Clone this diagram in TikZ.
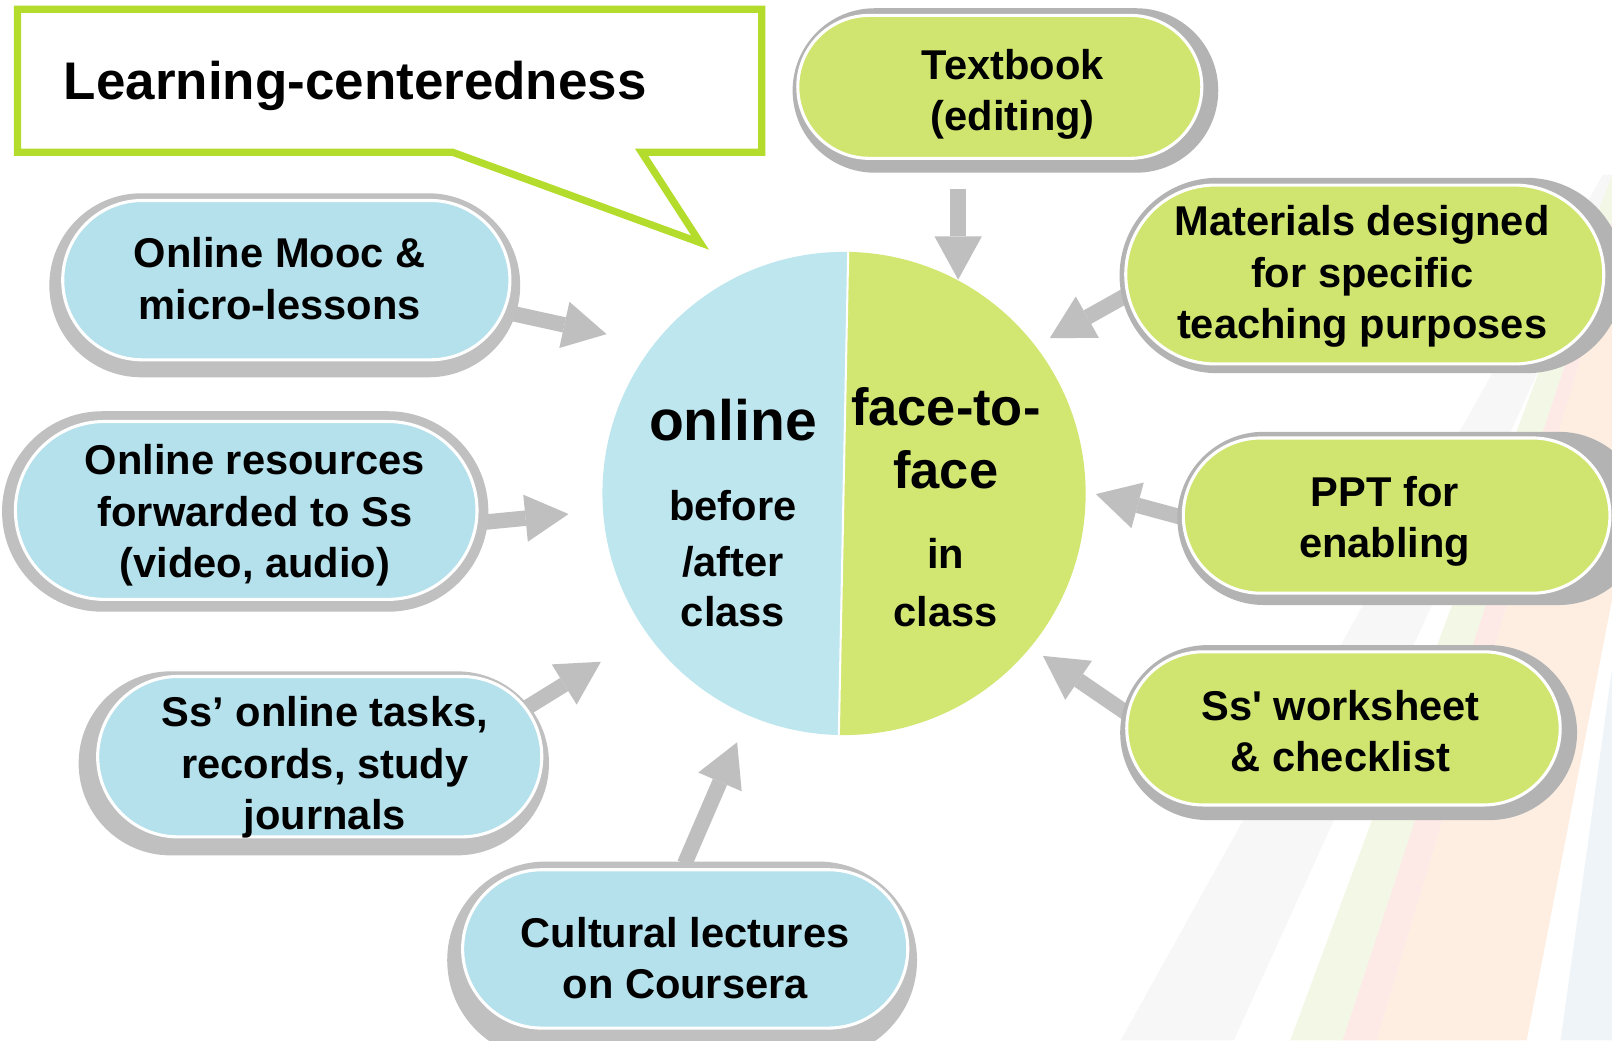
\documentclass[tikz,border=0pt]{standalone}
\usepackage{fontspec}
\setmainfont{Liberation Sans}[Ligatures=TeXOff]
\usetikzlibrary{shapes.misc,arrows.meta}
\definecolor{pillblue}{HTML}{B4E1EC}
\definecolor{pillgreen}{HTML}{D0E56F}
\definecolor{circblue}{HTML}{BEE6EE}
\definecolor{circgreen}{HTML}{D2E672}
\definecolor{shadowL}{HTML}{C0C0C0}
\definecolor{shadowR}{HTML}{B3B3B3}
\definecolor{arrowgrey}{HTML}{BFBFBF}
\definecolor{calloutgreen}{HTML}{B4DC2C}
\definecolor{stripegrey}{HTML}{F7F7F7}
\definecolor{stripegreen}{HTML}{F2F8E5}
\definecolor{stripepink}{HTML}{FDE9E5}
\definecolor{stripepeach}{HTML}{FDEEE1}
\definecolor{stripeblue}{HTML}{EEF4F8}
\tikzset{
  pill/.style={rounded rectangle, inner sep=0pt, outer sep=0pt, draw=white, line width=3pt},
  pillshadow/.style={rounded rectangle, inner sep=0pt, outer sep=0pt, draw=none},
  pilltext/.style={align=center, font=\fontsize{40.5}{50}\selectfont\bfseries, inner sep=0pt},
  hubbig/.style={anchor=base, inner sep=0pt, font=\fontsize{51}{60}\selectfont\bfseries},
  hubsmall/.style={anchor=base, inner sep=0pt, font=\fontsize{40.5}{50}\selectfont\bfseries},
  bigarrow/.style={draw=arrowgrey, line width=15pt, -{Triangle[length=42pt,width=46pt,line width=0pt]}},
}
\begin{document}
\begin{tikzpicture}[x=1pt,y=-1pt]
\useasboundingbox (0,0) rectangle (1568,1012);
\fill[white] (0,0) rectangle (1568,1012);
% background stripes
\begin{scope}
\clip (0,165) rectangle (1568,1012);
\fill[stripegrey] (1090,1012) -- (1200,1012) -- (1583,170) -- (1559,170) -- cycle;
\fill[stripegreen] (1255,1012) -- (1306,1012) -- (1583,170) -- (1568,170) -- cycle;
\fill[stripepink] (1306,1012) -- (1339,1012) -- (1591,170) -- (1583,170) -- cycle;
\fill[stripepeach] (1339,1012) -- (1485,1012) -- (1648,170) -- (1591,170) -- cycle;
\fill[stripeblue] (1518,1012) -- (1600,1012) -- (1600,420) -- cycle;
\end{scope}
% callout
\draw[calloutgreen, line width=7pt, fill=white] (17,9) -- (741,9) -- (741,148) -- (624,148) -- (681,236) -- (440,148) -- (17,148) -- cycle;
\node[anchor=base west, font=\fontsize{51.5}{60}\selectfont\bfseries, inner sep=0pt] (title) at (62,97) {Learning-centeredness};
% arrow coordinates
\coordinate (tA) at (932,184);  \coordinate (hA) at (932,272);
\coordinate (tB) at (1105,282); \coordinate (hB) at (1021,329);
\coordinate (tC) at (485,302);  \coordinate (hC) at (590,325);
\coordinate (tD) at (460,509);  \coordinate (hD) at (553,500);
\coordinate (tE) at (1160,506); \coordinate (hE) at (1066,480.6);
\coordinate (tF) at (500,696);  \coordinate (hF) at (584.5,643.7);
\coordinate (tG) at (1100,696.5); \coordinate (hG) at (1014.5,638);
\coordinate (tH) at (666,840);  \coordinate (hH) at (717,722);
\foreach \a in {A,B,C,D,E,F,G,H} {\draw[bigarrow] (t\a) -- (h\a);}
% hub circle
\node[circle, minimum size=470pt, inner sep=0pt] (hub) at (821,480) {};
\begin{scope}
\clip (821,480) circle[radius=235pt];
\fill[circblue] (580,230) -- (825.33,230) -- (815.65,730) -- (580,730) -- cycle;
\fill[circgreen] (825.33,230) -- (1060,230) -- (1060,730) -- (815.65,730) -- cycle;
\draw[white, line width=2pt] (825.33,230) -- (815.65,730);
\end{scope}
\node[hubbig, font=\fontsize{55.5}{60}\selectfont\bfseries] (on1) at (713,428) {online};
\node[hubsmall] (on2) at (713,506) {before};
\node[hubsmall] (on3) at (713,561) {/after};
\node[hubsmall] (on4) at (713,609.6) {class};
\node[hubbig] (ff1) at (920,413.5) {face-to-};
\node[hubbig] (ff2) at (920,475) {face};
\node[hubsmall] (ff3) at (920,552.6) {in};
\node[hubsmall] (ff4) at (920,609.6) {class};
% pills
\node[pillshadow, fill=shadowR, minimum width=414pt, minimum height=160pt] (textbookS) at (978,88) {};
\node[pill, fill=pillgreen, minimum width=393pt, minimum height=139pt] (textbook) at (972.5,84.5) {};
\node[pilltext] (textbookT) at (985,92) {Textbook\\(editing)};

\node[pillshadow, fill=shadowR, minimum width=491pt, minimum height=190pt] (materialsS) at (1334.5,268) {};
\node[pill, fill=pillgreen, minimum width=465pt, minimum height=174pt] (materials) at (1327.5,267) {};
\node[pilltext] (materialsT) at (1325,269) {Materials designed\\for specific\\teaching purposes};

\node[pillshadow, fill=shadowL, minimum width=458pt, minimum height=179pt] (moocS) at (277,277.5) {};
\node[pill, fill=pillblue, minimum width=435pt, minimum height=155pt] (mooc) at (278.5,272.5) {};
\node[pilltext] (moocT) at (272,271) {Online Mooc \&\\micro-lessons};

\node[pillshadow, fill=shadowL, minimum width=473pt, minimum height=195pt] (resS) at (238.5,497.5) {};
\node[pill, fill=pillblue, minimum width=449pt, minimum height=173pt] (res) at (239.5,496.5) {};
\node[pilltext] (resT) at (248,501.5) {Online resources\\forwarded to Ss\\(video, audio)};

\node[pillshadow, fill=shadowR, minimum width=455pt, minimum height=168.5pt] (pptS) at (1372.75,504.25) {};
\node[pill, fill=pillgreen, minimum width=415pt, minimum height=151pt] (ppt) at (1358.5,501.5) {};
\node[pilltext] (pptT) at (1347,507) {PPT for\\enabling};

\node[pillshadow, fill=shadowL, minimum width=457.5pt, minimum height=179pt] (tasksS) at (305.25,742.5) {};
\node[pill, fill=pillblue, minimum width=432pt, minimum height=156pt] (tasks) at (311,736) {};
\node[pilltext] (tasksT) at (316,746.5) {Ss’ online tasks,\\records, study\\journals};

\node[pillshadow, fill=shadowR, minimum width=444.4pt, minimum height=170.2pt] (sheetS) at (1311.8,712.6) {};
\node[pill, fill=pillgreen, minimum width=421.6pt, minimum height=149pt] (sheet) at (1306.8,708.5) {};
\node[pilltext] (sheetT) at (1304,711) {Ss' worksheet\\\& checklist};

\node[pillshadow, fill=shadowL, minimum width=457pt, minimum height=192pt] (coursS) at (663.5,934) {};
\node[pill, fill=pillblue, minimum width=433pt, minimum height=154pt] (cours) at (666.5,923) {};
\node[pilltext] (coursT) at (666.5,932) {Cultural lectures\\on Coursera};
\end{tikzpicture}
\end{document}
